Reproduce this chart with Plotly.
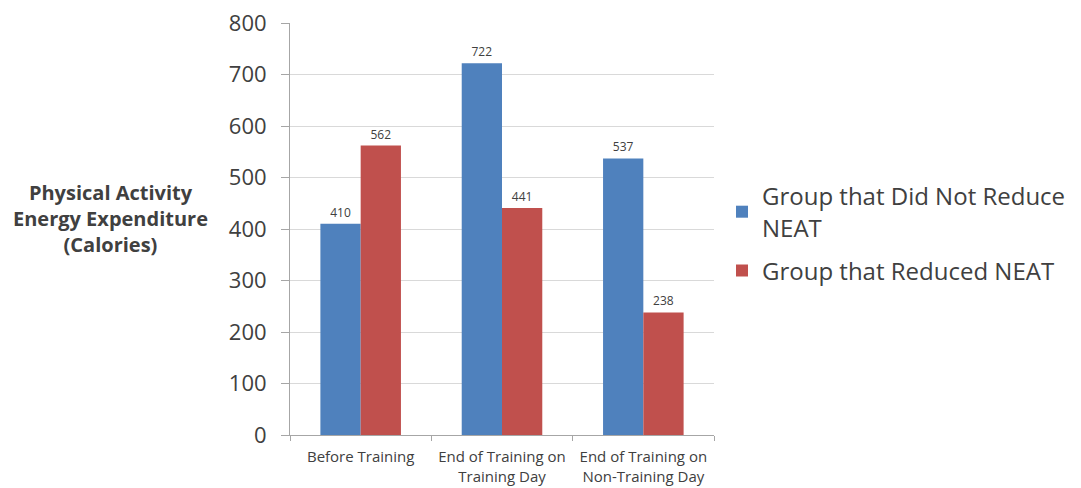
import plotly.graph_objects as go

categories = ["Before Training", "End of Training on<br>Training Day", "End of Training on<br>Non-Training Day"]
not_reduce = [410, 722, 537]
reduced = [562, 441, 238]
y_ticks = [0, 100, 200, 300, 400, 500, 600, 700, 800]

FONT = "Open Sans, Lato, sans-serif"
L, R, T, B = 290, 367, 23, 53
W, H = 1081, 488
plot_w = W - L - R
plot_h = H - T - B

fig = go.Figure()
fig.add_trace(go.Bar(
    x=categories, y=not_reduce, name="Group that Did Not Reduce<br>NEAT",
    legendgroup="g1",
    marker=dict(color="#4F81BD", line=dict(width=0)),
    text=[str(v) for v in not_reduce], textposition="outside",
    textfont=dict(size=12, color="#404040", family=FONT), cliponaxis=False,
))
fig.add_trace(go.Bar(
    x=categories, y=reduced, name="Group that Reduced NEAT",
    legendgroup="g2",
    marker=dict(color="#C0504D", line=dict(width=0)),
    text=[str(v) for v in reduced], textposition="outside",
    textfont=dict(size=12, color="#404040", family=FONT), cliponaxis=False,
))

fig.update_layout(
    width=W, height=H,
    margin=dict(l=L, r=R, t=T, b=B, autoexpand=False),
    paper_bgcolor="white", plot_bgcolor="white",
    barmode="group", bargap=0.43, bargroupgap=0,
    font=dict(family=FONT, color="#404040"),
    showlegend=True,
    legend=dict(x=(722 - L) / plot_w, y=(435 - 174) / plot_h, xanchor="left", yanchor="top",
                font=dict(size=24, color="#404040"), traceorder="grouped", tracegroupgap=9,
                bgcolor="rgba(0,0,0,0)"),
    xaxis=dict(showline=True, linecolor="#a6a6a6", linewidth=1, automargin=False,
               ticks="outside", tickson="boundaries", ticklen=5, tickcolor="#a6a6a6",
               tickfont=dict(size=15, color="#404040"), ticklabelstandoff=8),
    yaxis=dict(range=[0, 800], tickvals=y_ticks, showgrid=True, gridcolor="#d9d9d9",
               showline=True, linecolor="#a6a6a6", ticks="outside", ticklen=8, automargin=False,
               tickcolor="#a6a6a6", tickfont=dict(size=22, color="#404040"),
               ticklabelstandoff=10, zeroline=False),
    annotations=[dict(
        text="<b>Physical Activity<br>Energy Expenditure<br>(Calories)</b>",
        x=(110 - L) / plot_w, y=(435 - 218) / plot_h, xref="paper", yref="paper",
        xanchor="center", yanchor="middle", showarrow=False,
        font=dict(size=20, color="#404040", family=FONT), align="center",
    )],
)

fig.write_html("out.html")
